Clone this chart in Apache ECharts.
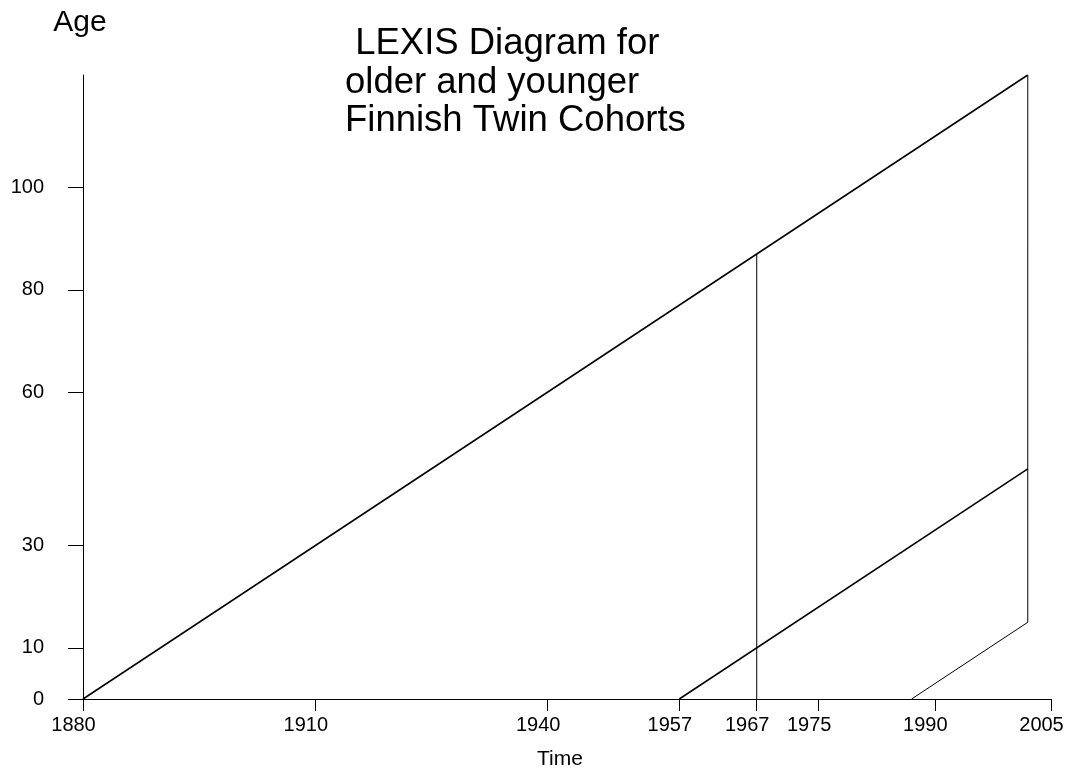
<!DOCTYPE html>
<html>
<head>
<meta charset="utf-8">
<script src="https://cdn.jsdelivr.net/npm/echarts@6/dist/echarts.min.js"></script>
<style>
  html, body { margin: 0; padding: 0; background: #fff; }
  #chart { width: 1069px; height: 768px; }
</style>
</head>
<body>
<div id="chart"></div>
<script>
// cohort life lines [time, age]
const olderCohort = [[1880, 0], [2002, 122]];
const youngerCohort = [[1957, 0], [2002, 45]];
const lateCohort = [[1987, 0], [2002, 15]];
// follow-up verticals
const followUp1967 = [[1967, 0], [1967, 87]];
const followUp2002 = [[2002, 15], [2002, 122]];

const timeTicks = [1880, 1910, 1940, 1957, 1967, 1975, 1990, 2005];
const ageTicks = [0, 10, 30, 60, 80, 100];

const font = 'Liberation Sans, Arial, sans-serif';

function seg(data, width) {
    return {
        type: 'line',
        data: data,
        symbol: 'none',
        silent: true,
        animation: false,
        lineStyle: { color: '#000', width: width }
    };
}

let myChart = echarts.init(document.getElementById('chart'));
let option = {
    backgroundColor: '#fff',
    title: {
        text: ' LEXIS Diagram for\nolder and younger\nFinnish Twin Cohorts',
        left: 345,
        top: 25,
        padding: 0,
        textStyle: {
            fontFamily: font,
            fontSize: 36.5,
            fontWeight: 'normal',
            color: '#000',
            lineHeight: 38.5
        }
    },
    grid: {
        left: 83,
        right: 18,
        top: 75,
        bottom: 69,
        outerBoundsMode: 'none'
    },
    xAxis: {
        type: 'value',
        min: 1880,
        max: 2005,
        name: 'Time',
        nameLocation: 'middle',
        nameGap: 50,
        nameTextStyle: { fontFamily: font, fontSize: 21, color: '#000', padding: [0, 14, 0, 0] },
        splitLine: { show: false },
        axisLine: { lineStyle: { color: '#000', width: 1 } },
        axisTick: {
            customValues: timeTicks,
            length: 12,
            lineStyle: { color: '#000', width: 1 }
        },
        axisLabel: {
            customValues: timeTicks,
            margin: 16,
            fontFamily: font,
            fontSize: 20,
            color: '#000',
            // labels sit a little left of their ticks in the original
            padding: [0, 19, 0, 0],
            formatter: function (v) { return String(v); }
        }
    },
    yAxis: {
        type: 'value',
        min: 0,
        max: 122,
        name: 'Age',
        nameLocation: 'end',
        nameGap: 37,
        nameTextStyle: { fontFamily: font, fontSize: 30, color: '#000', padding: [0, 6, 0, 0] },
        splitLine: { show: false },
        axisLine: { show: true, lineStyle: { color: '#000', width: 1 } },
        axisTick: {
            show: true,
            customValues: ageTicks,
            length: 15,
            lineStyle: { color: '#000', width: 1 }
        },
        axisLabel: {
            customValues: ageTicks,
            margin: 39,
            fontFamily: font,
            fontSize: 20,
            color: '#000'
        }
    },
    series: [
        seg(olderCohort, 1.5),
        seg(youngerCohort, 1.5),
        seg(lateCohort, 1),
        seg(followUp1967, 1),
        seg(followUp2002, 1)
    ]
};
myChart.setOption(option);
</script>
</body>
</html>
